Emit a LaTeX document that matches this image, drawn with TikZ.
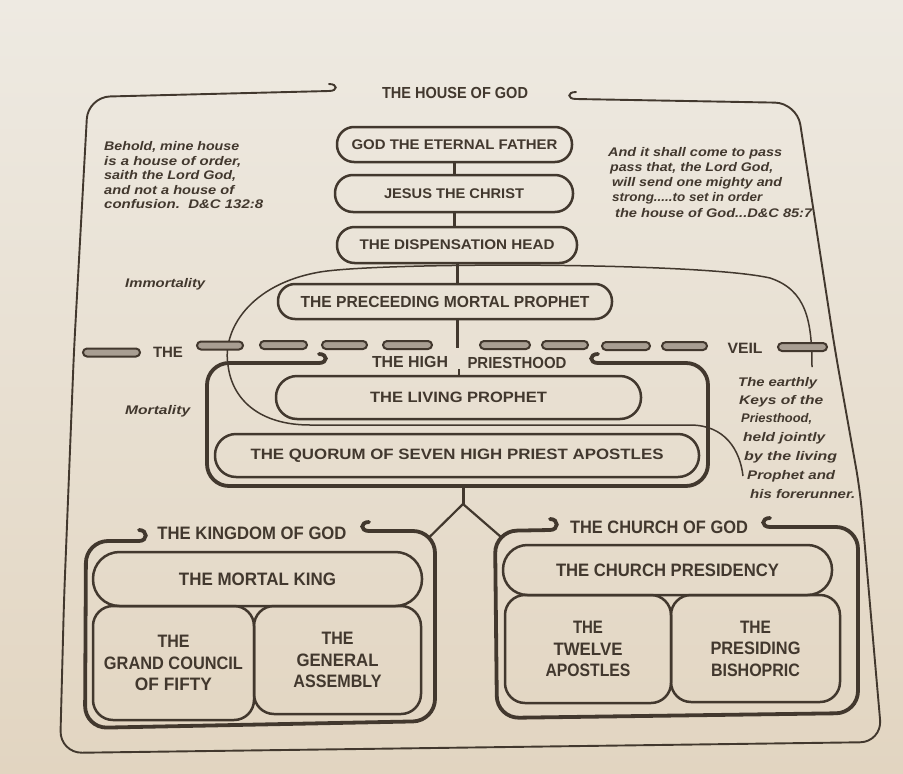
\documentclass[tikz,border=0pt]{standalone}
\usepackage{fontspec}
\usepackage{graphicx}
\setmainfont{Liberation Sans}
\definecolor{ink}{RGB}{66,56,46}
\definecolor{paperA}{RGB}{238,234,226}
\definecolor{paperB}{RGB}{226,213,193}
\definecolor{dashfill}{RGB}{168,158,146}
\newcommand\fw[2]{\resizebox{#1pt}{\height}{#2}}
\newcommand\fsz[2]{\fontsize{#1}{#2}\selectfont}
\begin{document}
\begin{tikzpicture}[x=1pt,y=-1pt,
 pill/.style={draw=ink,line width=2.5pt,inner sep=0pt,text=ink,font=\bfseries},
 box/.style={draw=ink,line width=2.5pt,rounded corners=20pt,inner sep=0pt,text=ink,font=\bfseries\fsz{18}{21.5},align=center},
 ttl/.style={text=ink,font=\bfseries,inner sep=0pt},
 ital/.style={text=ink,font=\bfseries\itshape\fsz{12.5}{14},inner sep=0pt,anchor=base west},
 conn/.style={draw=ink,line width=3pt},
 branch/.style={draw=ink,line width=2.2pt},
 mainframe/.style={draw=ink,line width=1.9pt,rounded corners=22pt},
 mainhook/.style={draw=ink,line width=1.9pt,line cap=round},
 thickframe/.style={draw=ink,line width=3.8pt,rounded corners=22pt,line cap=round},
 thickhook/.style={draw=ink,line width=3.8pt,line cap=round},
 keys/.style={draw=ink,line width=1.5pt},
 vdash/.style={draw=ink,line width=2pt,fill=dashfill,rounded corners=4pt}]

\fill[top color=paperA,bottom color=paperB] (0,0) rectangle (903,774);
\useasboundingbox (0,0) rectangle (903,774);

% outer frame: the house of god
\draw[mainframe] (329,91) -- (88,97) -- (74,350) -- (64,600) -- (60,753) -- (882,742) -- (860,490) -- (835,350) -- (797,103) -- (576,99);
\draw[mainhook] (329,91) .. controls (338,91) and (338,84) .. (329,84);
\draw[mainhook] (576,99) .. controls (567,99) and (567,92) .. (576,92);
\node[ttl] (house) at (455,93) {\fsz{16}{16}\fw{146}{THE HOUSE OF GOD}};

% quotes
\node[ital] (q1) at (104,150) {\fw{135}{Behold, mine house}};
\node[ital] (q2) at (104,165) {\fw{137}{is a house of order,}};
\node[ital] (q3) at (104,179) {\fw{132}{saith the Lord God,}};
\node[ital] (q4) at (104,194) {\fw{130}{and not a house of}};
\node[ital] (q5) at (104,208) {\fw{159}{confusion.\ \ D\&C 132:8}};

\node[ital] (r1) at (608,156) {\fw{174}{And it shall come to pass}};
\node[ital] (r2) at (610,171) {\fw{163}{pass that, the Lord God,}};
\node[ital] (r3) at (612,186) {\fw{170}{will send one mighty and}};
\node[ital] (r4) at (612,201) {\fw{150}{strong.....to set in order}};
\node[ital] (r5) at (615,217) {\fw{197}{the house of God...D\&C 85:7}};

\node[ital] (imm) at (125,287) {\fw{80}{Immortality}};
\node[ital] (mort) at (125,414) {\fw{65}{Mortality}};

\node[ital] (k1) at (738,386) {\fw{79}{The earthly}};
\node[ital] (k2) at (739,404) {\fw{84}{Keys of the}};
\node[ital] (k3) at (741,422) {\fw{71}{Priesthood,}};
\node[ital] (k4) at (743,441) {\fw{82}{held jointly}};
\node[ital] (k5) at (744,460) {\fw{93}{by the living}};
\node[ital] (k6) at (747,479) {\fw{88}{Prophet and}};
\node[ital] (k7) at (750,498) {\fw{105}{his forerunner.}};

% heavenly chain
\node[pill,rounded corners=17pt,minimum width=235pt,minimum height=35pt] (god) at (454.5,144.5) {\fsz{14}{14}\fw{206}{GOD THE ETERNAL FATHER}};
\node[pill,rounded corners=18pt,minimum width=238pt,minimum height=37pt] (jesus) at (454,193.5) {\fsz{14}{14}\fw{140}{JESUS THE CHRIST}};
\node[pill,rounded corners=17.5pt,minimum width=240pt,minimum height=36pt] (disp) at (457,245) {\fsz{14}{14}\fw{195}{THE DISPENSATION HEAD}};

% keys curve
\draw[keys] (812,367) .. controls (812,320) and (806,290) .. (770,278) .. controls (700,262) and (380,262) .. (320,272) .. controls (250,284) and (222,330) .. (228,365) .. controls (232,400) and (260,425) .. (310,425) -- (690,425) .. controls (725,425) and (740,450) .. (743,476);

\node[pill,rounded corners=17pt,minimum width=334pt,minimum height=35pt] (prec) at (445,301.5) {\fsz{16}{16}\fw{289}{THE PRECEEDING MORTAL PROPHET}};

\draw[conn] (god.south) -- (god.south |- jesus.north);
\draw[conn] (jesus.south) -- (jesus.south |- disp.north);
\draw[conn] (disp.south) -- (disp.south |- prec.north);
\draw[conn] (disp.south |- prec.south) -- ++(0,28);

% the veil
\draw[vdash] (83,348.5) rectangle (140,356.5);
\draw[vdash] (197,341.5) rectangle (243,349.5);
\draw[vdash] (260,341) rectangle (307,349);
\draw[vdash] (322,341) rectangle (367,349);
\draw[vdash] (383,341) rectangle (432,349);
\draw[vdash] (480,341) rectangle (530,349);
\draw[vdash] (542,341) rectangle (588,349);
\draw[vdash] (602,342) rectangle (650,350);
\draw[vdash] (662,342) rectangle (707,350);
\draw[vdash] (778,343) rectangle (827,351);
\node[ttl] (vthe) at (168,352) {\fsz{15}{15}\fw{30}{THE}};
\node[ttl] (veil) at (745,348) {\fsz{15}{15}\fw{35}{VEIL}};

% the high priesthood
\draw[thickframe] (319,363) -- (207,363) -- (207,486) -- (708,486) -- (708,363) -- (598,363);
\draw[thickhook] (319,363) .. controls (328,363) and (328,354) .. (319,354);
\draw[thickhook] (598,363) .. controls (589,363) and (589,354) .. (598,354);
\node[ttl] (hp1) at (410,362) {\fsz{16}{16}\fw{76}{THE HIGH}};
\node[ttl] (hp2) at (517,363) {\fsz{16}{16}\fw{99}{PRIESTHOOD}};
\node[pill,rounded corners=21pt,minimum width=365pt,minimum height=43pt] (living) at (458.5,397.5) {\fsz{15}{15}\fw{177}{THE LIVING PROPHET}};
\node[pill,rounded corners=21pt,minimum width=484pt,minimum height=43pt] (quorum) at (457,455.5) {\fsz{15}{15}\fw{413}{THE QUORUM OF SEVEN HIGH PRIEST APOSTLES}};
\draw[conn,line width=2pt] (living.north) -- ++(0,-6);

% split
\coordinate (hpb) at (463,486);
\coordinate (split) at (463,504);
\coordinate (kgc) at (428.5,538);
\coordinate (chc) at (501,537);
\draw[conn] (hpb) -- (split);
\draw[branch] (split) -- (kgc);
\draw[branch] (split) -- (chc);

% kingdom of god
\draw[thickframe] (139,541) -- (86,541) -- (85,728) -- (435,721) -- (435,531) -- (369,531);
\draw[thickhook] (139,541) .. controls (148,541) and (148,530) .. (139,530);
\draw[thickhook] (369,531) .. controls (360,531) and (360,522) .. (369,522);
\node[ttl] (kg) at (252,533) {\fsz{18}{18}\fw{189}{THE KINGDOM OF GOD}};
\node[pill,rounded corners=26.5pt,minimum width=329pt,minimum height=54pt] (king) at (257.5,579) {\fsz{18}{18}\fw{157}{THE MORTAL KING}};
\node[box,minimum width=161pt,minimum height=114pt] (council) at (173.5,663) {\fw{32}{THE}\\\fw{139}{GRAND COUNCIL}\\\fw{77}{OF FIFTY}};
\node[box,minimum width=167pt,minimum height=108pt] (assembly) at (337.5,660) {\fw{32}{THE}\\\fw{82}{GENERAL}\\\fw{88}{ASSEMBLY}};

% church of god
\draw[thickframe] (550,530) -- (495,531) -- (497,718) -- (858,713) -- (858,527) -- (770,527);
\draw[thickhook] (550,530) .. controls (559,530) and (559,519) .. (550,519);
\draw[thickhook] (770,527) .. controls (761,527) and (761,518) .. (770,518);
\node[ttl] (cg) at (659,527) {\fsz{18}{18}\fw{178}{THE CHURCH OF GOD}};
\node[pill,rounded corners=24.5pt,minimum width=329pt,minimum height=50pt] (pres) at (667.5,570) {\fsz{18}{18}\fw{223}{THE CHURCH PRESIDENCY}};
\node[box,minimum width=166pt,minimum height=108pt] (twelve) at (588,649) {\fw{30}{THE}\\\fw{69}{TWELVE}\\\fw{85}{APOSTLES}};
\node[box,minimum width=169pt,minimum height=107pt] (bishop) at (755.5,648.5) {\fw{31}{THE}\\\fw{90}{PRESIDING}\\\fw{89}{BISHOPRIC}};
\end{tikzpicture}
\end{document}
